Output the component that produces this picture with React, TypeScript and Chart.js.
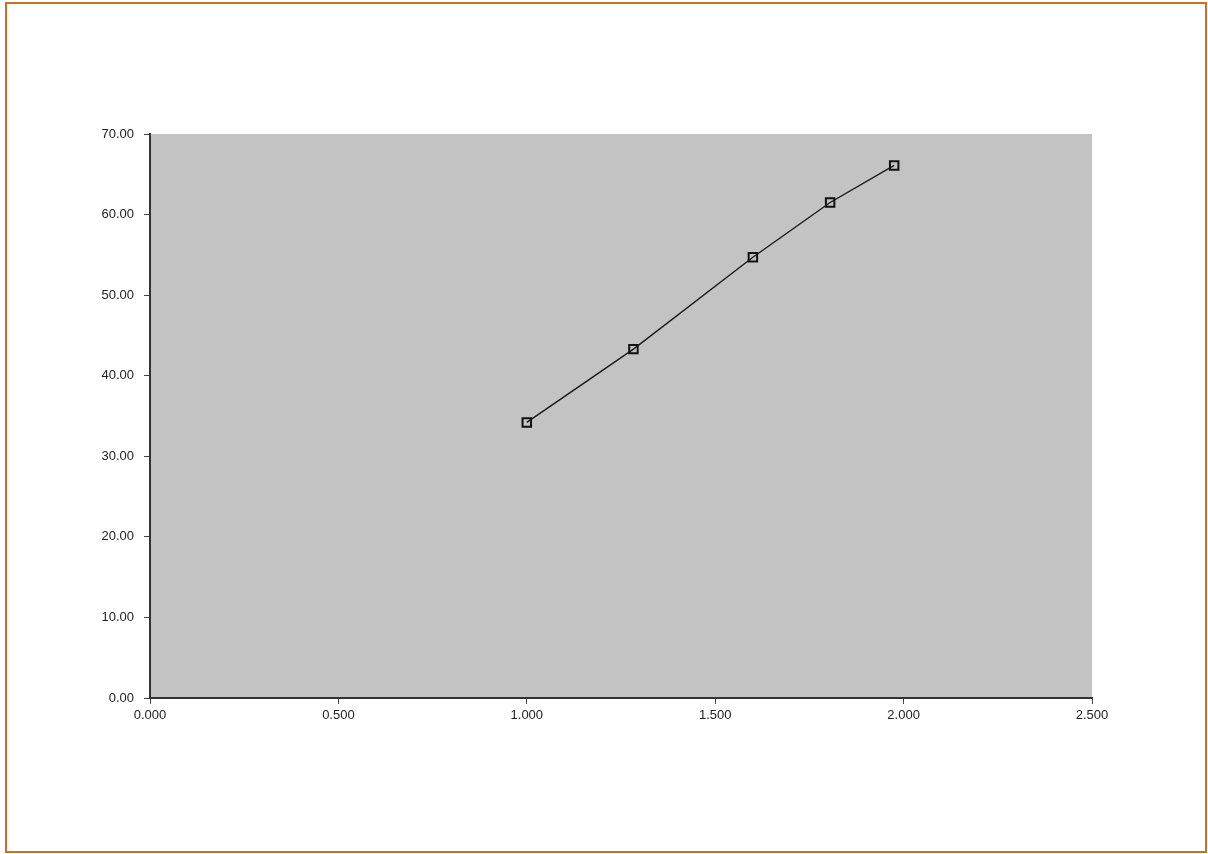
import React, { useEffect, useRef } from "react";
import { Chart, registerables } from "chart.js";

Chart.register(...registerables);

const xValues = [1.0, 1.283, 1.6, 1.805, 1.975];
const yValues = [34.2, 43.3, 54.7, 61.5, 66.1];
const xTickStep = 0.5;
const yTickStep = 10;

const plotBg = {
  id: "plotBg",
  beforeDraw(chart: any) {
    const { ctx, chartArea } = chart;
    if (!chartArea) return;
    ctx.save();
    ctx.fillStyle = "#c3c3c3";
    ctx.fillRect(chartArea.left, chartArea.top, chartArea.right - chartArea.left, chartArea.bottom - chartArea.top);
    ctx.restore();
  },
};

export default function App() {
  const ref = useRef<HTMLCanvasElement>(null);
  useEffect(() => {
    if (!ref.current) return;
    const data = xValues.map((x, i) => ({ x, y: yValues[i] }));
    const chart = new Chart(ref.current, {
      type: "scatter",
      data: {
        datasets: [
          {
            data,
            showLine: true,
            borderColor: "#1a1a1a",
            borderWidth: 1.4,
            pointStyle: "rect",
            pointRadius: 6,
            pointBorderWidth: 2,
            pointBorderColor: "#111",
            pointBackgroundColor: "rgba(0,0,0,0)",
          },
        ],
      },
      options: {
        animation: false,
        responsive: false,
        maintainAspectRatio: false,
        layout: { padding: { top: 134, left: 0, right: 116, bottom: 126 } },
        plugins: { legend: { display: false }, tooltip: { enabled: false } },
        scales: {
          x: {
            type: "linear",
            min: 0,
            max: 2.5,
            afterFit: (s: any) => { s.height = 30; },
            border: { color: "#333", width: 2 },
            grid: { drawOnChartArea: false, drawTicks: true, tickLength: 6, color: "#444" },
            ticks: {
              stepSize: xTickStep,
              padding: 4,
              color: "#222",
              font: { family: "Liberation Sans, Arial, sans-serif", size: 13 },
              callback: (v: any) => Number(v).toFixed(3),
              maxRotation: 0,
            },
          },
          y: {
            type: "linear",
            min: 0,
            max: 70,
            afterFit: (s: any) => { s.width = 150; },
            border: { color: "#333", width: 2 },
            grid: { drawOnChartArea: false, drawTicks: true, tickLength: 6, color: "#444" },
            ticks: {
              stepSize: yTickStep,
              padding: 10,
              color: "#222",
              font: { family: "Liberation Sans, Arial, sans-serif", size: 13 },
              callback: (v: any) => Number(v).toFixed(2),
            },
          },
        },
      },
      plugins: [plotBg],
    });
    return () => chart.destroy();
  }, []);

  return (
    <div style={{ position: "fixed", left: 0, top: 0, width: 1208, height: 854, background: "#fff" }}>
      <div
        style={{
          position: "absolute",
          left: 5,
          top: 2,
          width: 1202,
          height: 851,
          boxSizing: "border-box",
          border: "2px solid #c27424",
        }}
      />
      <canvas ref={ref} width={1208} height={854} style={{ position: "absolute", left: 0, top: 0 }} />
    </div>
  );
}
